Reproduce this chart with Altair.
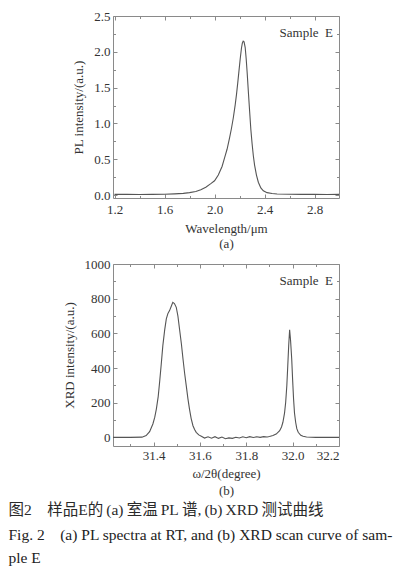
import altair as alt
import pandas as pd

# ---------------- data ----------------
pl_wavelength = [1.20, 1.30, 1.40, 1.50, 1.60, 1.68, 1.75, 1.80, 1.85, 1.89, 1.93, 1.97,
                 2.00, 2.03, 2.06, 2.08, 2.10, 2.12, 2.135, 2.15, 2.165, 2.175, 2.185,
                 2.195, 2.205, 2.215, 2.222, 2.229, 2.236, 2.245, 2.253, 2.261, 2.27,
                 2.28, 2.29, 2.30, 2.31, 2.32, 2.335, 2.35, 2.37, 2.39, 2.42, 2.46,
                 2.50, 2.60, 2.70, 2.80, 2.90, 2.995]
pl_intensity = [0.010, 0.010, 0.008, 0.010, 0.012, 0.018, 0.025, 0.035, 0.050, 0.075, 0.11, 0.16,
                0.20, 0.28, 0.40, 0.52, 0.64, 0.80, 0.93, 1.08, 1.26, 1.40, 1.56,
                1.73, 1.90, 2.05, 2.12, 2.15, 2.14, 2.06, 1.90, 1.70, 1.45,
                1.18, 0.92, 0.72, 0.55, 0.42, 0.28, 0.18, 0.10, 0.06, 0.035, 0.022,
                0.016, 0.012, 0.010, 0.010, 0.008, 0.010]

xrd_angle = [31.225, 31.30, 31.35, 31.368, 31.383, 31.397, 31.405, 31.412, 31.42, 31.426,
             31.433, 31.44, 31.448, 31.455, 31.462, 31.469, 31.476, 31.483, 31.49, 31.498,
             31.505, 31.512, 31.52, 31.527, 31.534, 31.541, 31.548, 31.555, 31.562, 31.57,
             31.577, 31.584, 31.595, 31.606, 31.62, 31.635, 31.65, 31.665, 31.68, 31.695,
             31.71, 31.725, 31.74, 31.755, 31.77, 31.785, 31.80, 31.815, 31.83, 31.845,
             31.86, 31.875, 31.89, 31.90, 31.915, 31.929, 31.944, 31.952, 31.958, 31.965,
             31.97, 31.975, 31.979, 31.983, 31.987, 31.991, 31.996, 32.0, 32.004, 32.008,
             32.013, 32.018, 32.024, 32.035, 32.045, 32.06, 32.10, 32.15, 32.20]
xrd_intensity = [0, 0, 1, 10, 33, 77, 115, 163, 235, 317,
                 420, 529, 620, 683, 715, 731, 755, 779, 772, 750,
                 700, 625, 540, 452, 370, 298, 225, 163, 110, 67,
                 45, 29, 14, 6, -4, 3, -5, 4, -6, 2,
                 -8, -3, -6, 0, -4, 3, -2, 4, -1, 3,
                 0, 4, 2, 5, 10, 19, 38, 60, 87, 140,
                 202, 300, 413, 530, 620, 560, 452, 330, 221, 140,
                 87, 50, 29, 12, 6, 2, 0, 0, 0]

pl_x_major = [1.2, 1.6, 2.0, 2.4, 2.8]
pl_x_minor = [1.4, 1.8, 2.2, 2.6]
pl_y_major = [0.0, 0.5, 1.0, 1.5, 2.0, 2.5]
pl_y_minor = [0.25, 0.75, 1.25, 1.75, 2.25]

xrd_x_major = [31.4, 31.6, 31.8, 32.0, 32.2]
xrd_x_minor = [31.3, 31.5, 31.7, 31.9, 32.1]
xrd_y_major = [0, 200, 400, 600, 800, 1000]
xrd_y_minor = [100, 300, 500, 700, 900]

sample_label = "Sample\u00a0\u00a0E"
caption_cn = "图2\u3000样品E的\u2009(a)\u2009室温\u2009PL\u2009谱,\u2009(b)\u2009XRD\u2009测试曲线"
caption_en = ["Fig.\u00a02\u00a0\u00a0\u00a0\u00a0(a) PL spectra at RT, and (b) XRD scan curve of sam-",
              "ple E"]

FONT = "Liberation Serif"
CJK = "Liberation Serif, Noto Sans CJK SC"
W, H = 226, 182
FRAME = "#8a8a8a"
TXT = "#333333"


def panel(df, xf, yf, xdom, ydom, xmaj, xmin, ymaj, ymin, xtitle, ytitle,
          xfmt, yfmt, xlabel_pad, xtitle_pad, ytitle_pad, xline_h):
    xs = alt.Scale(domain=xdom, nice=False, zero=False)
    ys = alt.Scale(domain=ydom, nice=False, zero=False)
    base = alt.Chart(df)

    main = base.mark_line(color="#555555", strokeWidth=1.1).encode(
        x=alt.X(f"{xf}:Q", scale=xs,
                axis=alt.Axis(orient="bottom", values=xmaj, format=xfmt, ticks=False,
                              tickSize=0, domain=False, grid=False, labelPadding=xlabel_pad,
                              labelFont=FONT, labelFontSize=13, labelColor=TXT,
                              title=xtitle, titleFont=FONT, titleFontSize=13,
                              titleFontWeight="normal", titleColor=TXT,
                              titlePadding=xtitle_pad, titleLineHeight=xline_h)),
        y=alt.Y(f"{yf}:Q", scale=ys,
                axis=alt.Axis(orient="left", values=ymaj, format=yfmt, ticks=False,
                              tickSize=0, domain=False, grid=False, labelPadding=3,
                              labelFont=FONT, labelFontSize=13, labelColor=TXT,
                              title=ytitle, titleFont=FONT, titleFontSize=13,
                              titleFontWeight="normal", titleColor=TXT,
                              titlePadding=ytitle_pad)),
    )

    def ticks(xorient, yorient, xvals, yvals, size):
        return base.mark_line(opacity=0).encode(
            x=alt.X(f"{xf}:Q", scale=xs,
                    axis=alt.Axis(orient=xorient, offset=-H, values=xvals, labels=False,
                                  title=None, domain=False, grid=False, ticks=True,
                                  tickSize=size, tickColor=FRAME, tickWidth=1)),
            y=alt.Y(f"{yf}:Q", scale=ys,
                    axis=alt.Axis(orient=yorient, offset=-W, values=yvals, labels=False,
                                  title=None, domain=False, grid=False, ticks=True,
                                  tickSize=size, tickColor=FRAME, tickWidth=1)),
        )

    label = alt.Chart(pd.DataFrame({"t": [sample_label]})).mark_text(
        font=FONT, fontSize=13, color=TXT, align="right", baseline="middle"
    ).encode(x=alt.value(W - 6), y=alt.value(17), text="t:N")

    return alt.layer(
        main,
        ticks("top", "right", xmaj, ymaj, 4),
        ticks("top", "right", xmin, ymin, 2.5),
        ticks("bottom", "left", xmaj, ymaj, 4),
        ticks("bottom", "left", xmin, ymin, 2.5),
        label,
    ).resolve_axis(x="independent", y="independent").properties(width=W, height=H)


pl_df = pd.DataFrame({"wavelength": pl_wavelength, "intensity": pl_intensity})
xrd_df = pd.DataFrame({"angle": xrd_angle, "intensity": xrd_intensity})

top = panel(pl_df, "wavelength", "intensity", [1.188, 2.995], [-0.04, 2.5],
            pl_x_major, pl_x_minor, pl_y_major, pl_y_minor,
            ["Wavelength/μm", "(a)"], "PL intensity/(a.u.)", ".1f", ".1f", 5, 6, 8, 15)
bottom = panel(xrd_df, "angle", "intensity", [31.225, 32.2], [-50, 1000],
               xrd_x_major, xrd_x_minor, xrd_y_major, xrd_y_minor,
               ["ω/2θ(degree)", "(b)"], "XRD intensity/(a.u.)", ".1f", "d", 3, 5, 8, 17)

chart = alt.vconcat(top, bottom, spacing=6).properties(
    padding={"top": 1, "left": 0, "right": 0, "bottom": 0},
    title=alt.TitleParams(
        text=caption_cn, subtitle=caption_en, orient="bottom", anchor="start",
        dx=-54, offset=5, font=CJK, fontSize=15.5, fontWeight="normal", color="#2a2a2a",
        subtitleFont=FONT, subtitleFontSize=15.5, subtitleColor="#222222",
        subtitlePadding=10, subtitleLineHeight=23,
    ),
).configure_view(stroke=FRAME, strokeWidth=1)

chart.save("out.html", embed_options={"renderer": "svg", "actions": False})
